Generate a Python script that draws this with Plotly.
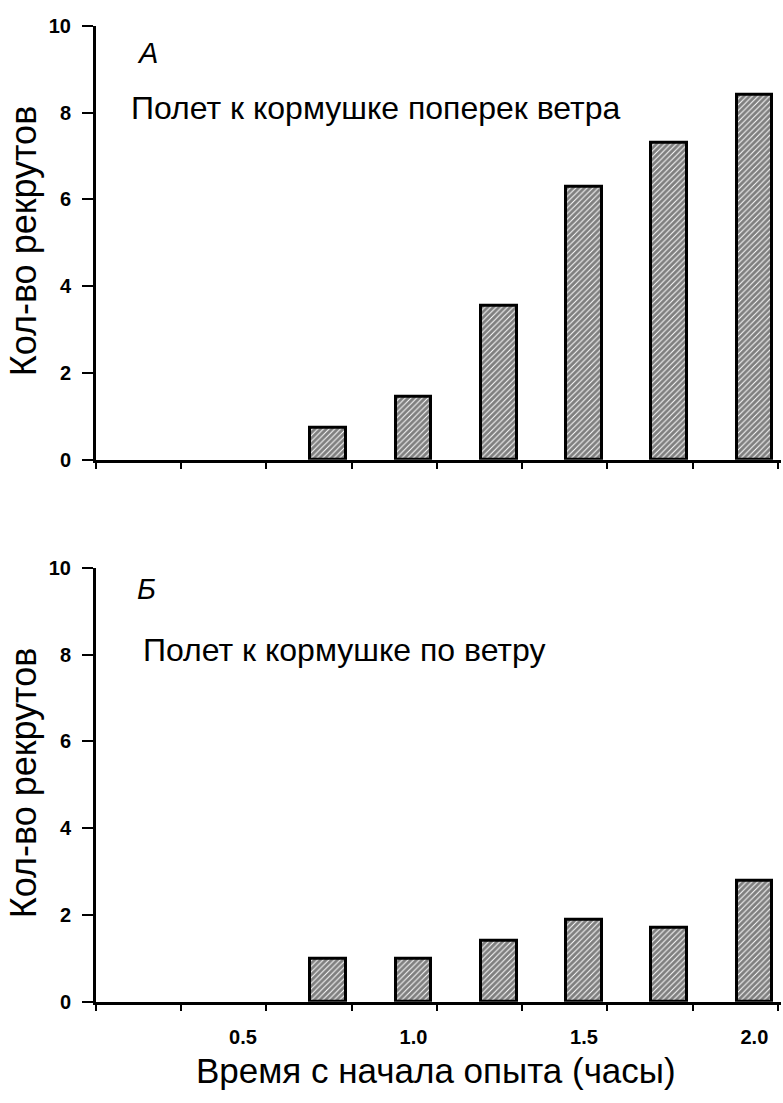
import plotly.graph_objects as go

# Data
times = [0.75, 1.0, 1.25, 1.5, 1.75, 2.0]
crosswind = [0.75, 1.45, 3.55, 6.3, 7.3, 8.4]
downwind = [1.0, 1.0, 1.4, 1.9, 1.7, 2.8]
x_tick_vals = [0.5, 1.0, 1.5, 2.0]
x_tick_text = ["0.5", "1.0", "1.5", "2.0"]
y_tick_vals = [0, 2, 4, 6, 8, 10]

W, H = 783, 1103
FONT = "Liberation Sans, Arial, sans-serif"
TICK_FONT = "Liberation Sans Narrow, Arial Narrow, Liberation Sans, sans-serif"

fig = go.Figure()

bar_style = dict(
    width=0.105,
    marker=dict(
        color="white",
        line=dict(color="black", width=3),
        pattern=dict(shape="/", fgcolor="black", bgcolor="white", size=4, solidity=0.75),
    ),
    showlegend=False,
    hoverinfo="x+y",
)

fig.add_trace(go.Bar(x=times, y=crosswind, xaxis="x", yaxis="y", **bar_style))
fig.add_trace(go.Bar(x=times, y=downwind, xaxis="x2", yaxis="y2", **bar_style))

x0 = 0.069
minor_ticks = [x0 + 0.25 * k for k in range(9)]
xrange = [x0, 2.078]

def px_x(p):
    return p / W

def px_y(p):
    return 1 - p / H

xdom = [px_x(96), px_x(781)]

tick_font = dict(family=TICK_FONT, size=20, color="black", weight="bold")

common_x = dict(
    domain=xdom,
    range=xrange,
    showline=True,
    linecolor="black",
    linewidth=3,
    showgrid=False,
    zeroline=False,
    ticks="",
    tickmode="array",
    tickvals=x_tick_vals,
    ticktext=x_tick_text,
    minor=dict(tickmode="array", tickvals=minor_ticks, ticks="outside",
               ticklen=6, tickwidth=2, tickcolor="black", showgrid=False),
    tickfont=tick_font,
)

common_y = dict(
    range=[0, 10],
    showline=True,
    linecolor="black",
    linewidth=3,
    showgrid=False,
    zeroline=False,
    ticks="outside",
    ticklen=11,
    tickwidth=2,
    tickcolor="black",
    tickmode="array",
    tickvals=y_tick_vals,
    tickfont=tick_font,
    ticklabelstandoff=7,
)

fig.update_layout(
    width=W,
    height=H,
    margin=dict(l=0, r=0, t=0, b=0),
    paper_bgcolor="white",
    plot_bgcolor="white",
    bargap=0,
    xaxis=dict(**common_x, anchor="y", showticklabels=False),
    yaxis=dict(**common_y, domain=[px_y(458), px_y(15)], anchor="x"),
    xaxis2=dict(**common_x, anchor="y2", showticklabels=True, ticklabelstandoff=15),
    yaxis2=dict(**common_y, domain=[px_y(1011), px_y(568)], anchor="x2"),
)

ann = []
def add_text(text, x, y, size, italic=False, angle=0, xanchor="left"):
    ann.append(dict(
        text=f"<i>{text}</i>" if italic else text,
        x=px_x(x), y=px_y(y), xref="paper", yref="paper",
        xanchor=xanchor, yanchor="middle", showarrow=False, textangle=angle,
        font=dict(family=FONT, size=size, color="black"),
    ))

add_text("Кол-во рекрутов", 23, 235, 36, angle=-90, xanchor="center")
add_text("Кол-во рекрутов", 23, 788, 36, angle=-90, xanchor="center")
add_text("А", 135, 43, 29, italic=True)
add_text("Б", 135, 590, 29, italic=True)
add_text("Полет к кормушке поперек ветра", 129, 99, 32)
add_text("Полет к кормушке по ветру", 141, 652, 32)
add_text("Время с начала опыта (часы)", 436, 1081, 35, xanchor="center")

fig.update_layout(annotations=ann)

fig.write_html("out.html")
